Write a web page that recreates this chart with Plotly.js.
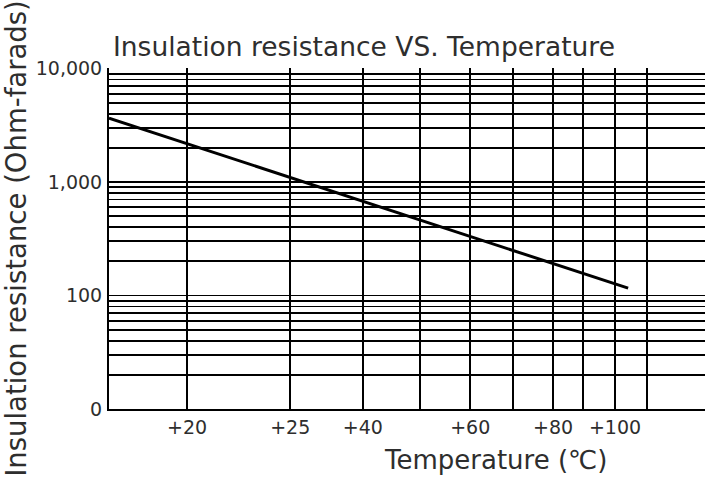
<!DOCTYPE html>
<html>
<head>
<meta charset="utf-8">
<script src="https://cdn.plot.ly/plotly-3.0.1.min.js"></script>
<style>
  html, body { margin: 0; padding: 0; background: #fff; }
  #chart { width: 705px; height: 479px; }
</style>
</head>
<body>
<div id="chart"></div>
<script>
// Position of each vertical rule on the chart's (non-uniform) temperature scale, 0..100 across the plot
const xGridPos = [13.1, 30.4, 42.6, 52.2, 60.6, 67.8, 74.5, 79.5, 84.9, 90.3];
const xGridLabels = ['+20', '+25', '+40', '', '+60', '', '+80', '', '+100', ''];

// Log-paper horizontal rules
const yGridVals = [10, 20, 30, 40, 50, 60, 70, 80, 90,
                   100, 200, 300, 400, 500, 600, 700, 800, 900,
                   1000, 2000, 3000, 4000, 5000, 6000, 7000, 8000, 9000, 10000];
const yLabelVals = [10, 100, 1000, 10000];
const yLabelText = ['0', '100', '1,000', '10,000'];

// Insulation resistance curve
const curveX = [0, 87.1];
const curveY = [3656, 116];

const yTickText = yGridVals.map(v => {
  const i = yLabelVals.indexOf(v);
  return i >= 0 ? yLabelText[i] : '';
});

const FONT = 'DejaVu Sans, Arial, sans-serif';
const TXT = '#2e2e2e';

const trace = {
  x: curveX,
  y: curveY,
  type: 'scatter',
  mode: 'lines',
  line: { color: '#000', width: 3 },
  hoverinfo: 'skip',
  showlegend: false
};

const layout = {
  width: 705,
  height: 479,
  margin: { l: 109, r: 0, t: 68, b: 70, pad: 0 },
  paper_bgcolor: '#fff',
  plot_bgcolor: '#fff',
  showlegend: false,
  title: {
    text: 'Insulation resistance VS. Temperature',
    x: 113 / 705, xref: 'container', xanchor: 'left',
    y: 1 - 47 / 479, yref: 'container', yanchor: 'middle',
    font: { family: FONT, size: 26.5, color: TXT }
  },
  xaxis: {
    type: 'linear',
    range: [0, 100],
    tickmode: 'array',
    tickvals: xGridPos,
    ticktext: xGridLabels,
    ticks: '',
    showgrid: true,
    gridcolor: '#000',
    gridwidth: 1.8,
    zeroline: false,
    showline: true,
    linecolor: '#000',
    linewidth: 2,
    tickfont: { family: FONT, size: 19, color: TXT },
    fixedrange: true
  },
  yaxis: {
    type: 'log',
    range: [1, 4.004],
    tickmode: 'array',
    tickvals: yGridVals,
    ticktext: yTickText,
    ticks: '',
    ticklabelstandoff: 1,
    showgrid: true,
    gridcolor: '#000',
    gridwidth: 1.8,
    zeroline: false,
    showline: true,
    linecolor: '#000',
    linewidth: 2,
    tickfont: { family: FONT, size: 19, color: TXT },
    title: {
      text: 'Insulation resistance (Ohm-farads)',
      font: { family: FONT, size: 27.5, color: TXT },
      standoff: 3
    },
    fixedrange: true
  },
  annotations: [{
    text: 'Temperature (℃)',
    xref: 'paper', yref: 'paper',
    x: (495 - 109) / 596, y: (409 - 460) / 341,
    xanchor: 'center', yanchor: 'middle',
    showarrow: false,
    font: { family: FONT, size: 26, color: TXT }
  }]
};

Plotly.newPlot('chart', [trace], layout, { staticPlot: true, displayModeBar: false });
</script>
</body>
</html>
